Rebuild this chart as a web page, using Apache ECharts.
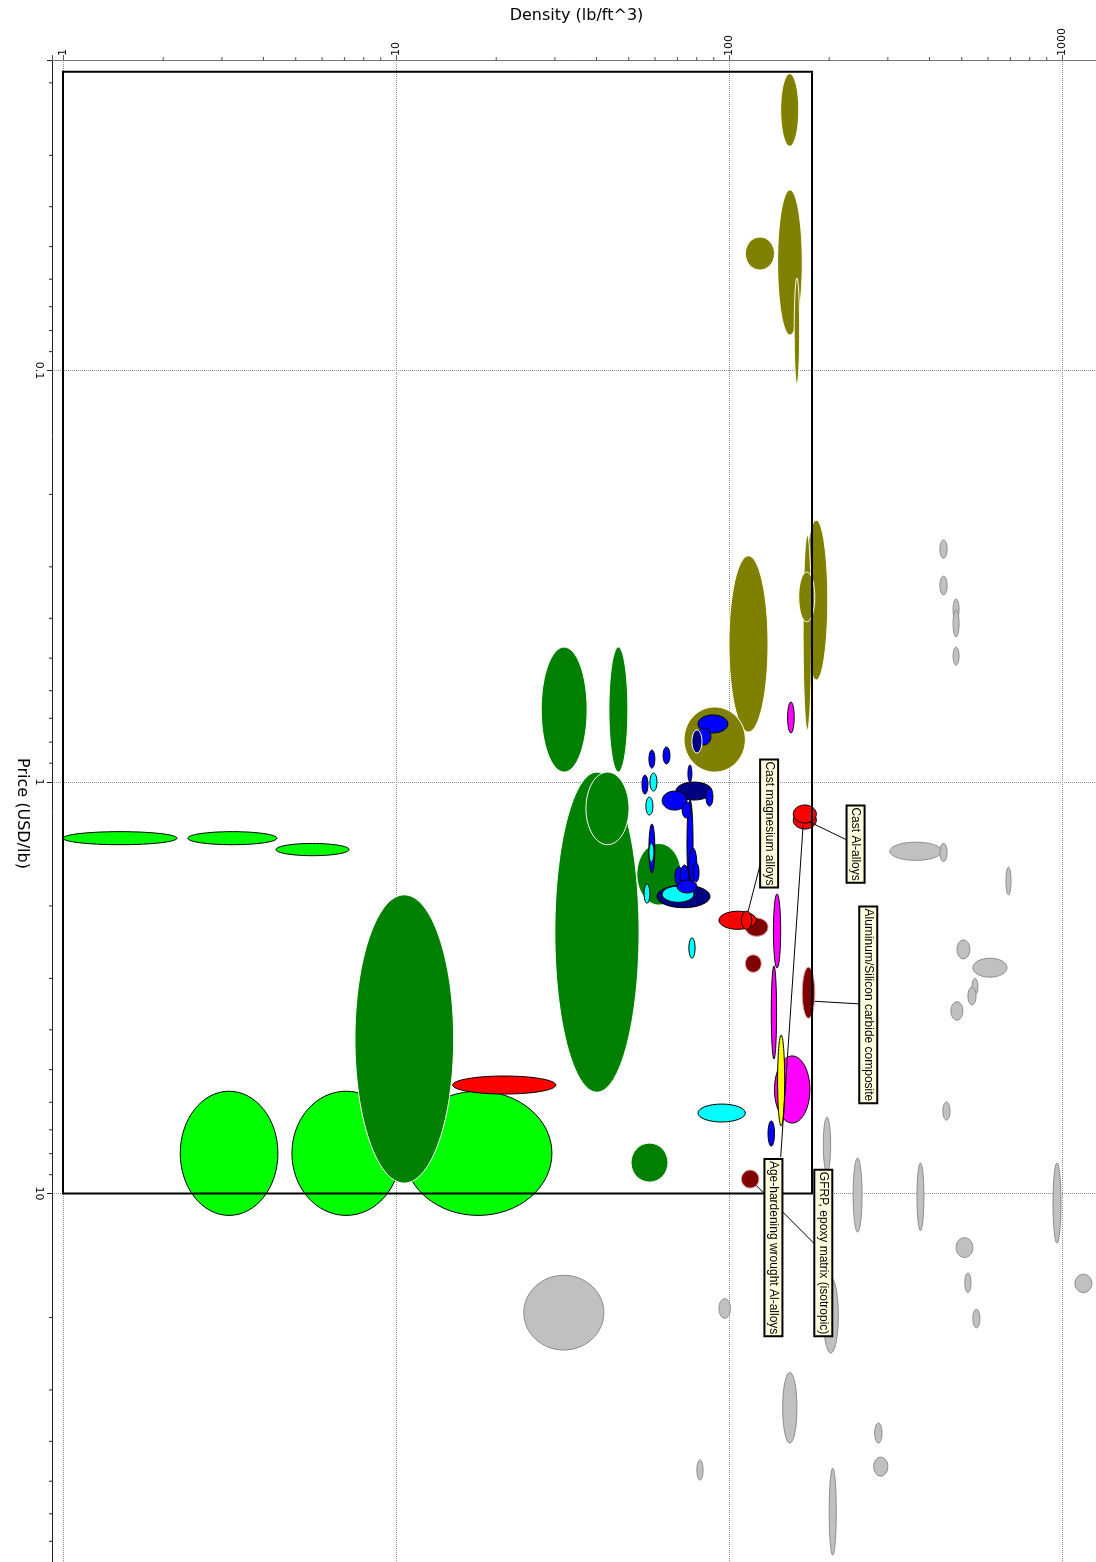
<!DOCTYPE html>
<html>
<head>
<meta charset="utf-8">
<title>Density vs Price</title>
<script src="https://cdn.jsdelivr.net/npm/echarts@6/dist/echarts.min.js"></script>
<style>
  html, body { margin: 0; padding: 0; background: #fff; }
  #chart { width: 1096px; height: 1562px; }
</style>
</head>
<body>
<div id="chart"></div>
<script>
// Material envelopes: [density low, density high, price low, price high]
// density in lb/ft^3, price in USD/lb
const grayOthers = [
  [430, 452, 0.258, 0.286], [430, 452, 0.316, 0.351], [471, 491, 0.359, 0.404],
  [471, 491, 0.382, 0.444], [471, 491, 0.470, 0.520], [304, 436, 1.40, 1.55],
  [430, 452, 1.41, 1.56], [679, 703, 1.61, 1.88], [484, 529, 2.42, 2.69],
  [540, 684, 2.68, 2.98], [537, 559, 3.00, 3.29], [522, 552, 3.15, 3.48],
  [464, 504, 3.42, 3.79], [439, 461, 5.99, 6.63], [192, 202, 6.52, 8.87],
  [236, 251, 8.20, 12.4], [367, 385, 8.43, 12.3], [940, 993, 8.43, 13.2],
  [481, 540, 12.8, 14.3], [511, 533, 15.6, 17.4], [1094, 1230, 15.7, 17.4],
  [540, 567, 19.1, 21.2], [192, 213, 16.0, 24.4], [93.3, 101, 18.0, 20.1],
  [145, 160, 27.2, 40.4], [274, 288, 36.1, 40.4], [272, 300, 43.7, 48.6],
  [80.1, 83.6, 44.4, 49.7], [200, 210, 46.5, 75.6], [24.2, 42.1, 15.8, 24.0]
];
const limeFoams = [
  [1.0, 2.20, 1.32, 1.42], [2.37, 4.39, 1.32, 1.42], [4.36, 7.23, 1.41, 1.51],
  [2.25, 4.42, 5.64, 11.3], [4.87, 10.3, 5.64, 11.3], [10.6, 29.4, 5.64, 11.3]
];
const greenWoods = [
  [27.3, 37.5, 0.470, 0.946], [43.6, 49.7, 0.470, 0.946], [30.0, 53.7, 0.946, 5.67],
  [37.2, 50.1, 0.946, 1.42], [52.9, 71.8, 1.41, 1.99], [7.53, 14.9, 1.88, 9.43],
  [50.8, 65.6, 7.54, 9.38]
];
const oliveMinerals = [
  [143, 162, 0.0190, 0.0285], [140, 166, 0.0364, 0.0820], [112, 137, 0.0474, 0.0570],
  [157, 163, 0.0596, 0.108], [169, 198, 0.231, 0.565], [167, 177, 0.251, 0.747],
  [162, 181, 0.309, 0.408], [100, 131, 0.282, 0.756], [73.3, 112, 0.657, 0.946]
];
const navyBack = [
  [69.3, 88.9, 1.00, 1.106], [60.8, 87.7, 1.78, 2.02]
];
const blueBack = [
  [57.5, 59.9, 0.836, 0.925], [63.4, 66.5, 0.822, 0.904], [54.8, 57.1, 0.962, 1.070],
  [57.5, 59.9, 1.265, 1.664]
];
const cyanPolymers = [
  [80.7, 112, 6.06, 6.70], [75.8, 79.1, 2.39, 2.68], [57.9, 60.8, 0.951, 1.052],
  [56.3, 59.1, 1.088, 1.203], [57.5, 59.5, 1.406, 1.565], [63.0, 78.5, 1.79, 1.96],
  [55.6, 57.9, 1.77, 1.97]
];
const blueFront = [
  [80.7, 99.3, 0.687, 0.760], [80.1, 88.3, 0.739, 0.813], [75.3, 77.4, 0.909, 1.0],
  [74.8, 78.0, 1.106, 1.80], [63.0, 74.8, 1.052, 1.170], [85.3, 89.5, 1.034, 1.144],
  [72.3, 76.9, 1.118, 1.223], [75.8, 80.1, 1.447, 1.75], [78.0, 81.3, 1.573, 1.75],
  [68.8, 72.8, 1.609, 1.78], [71.3, 75.8, 1.591, 1.85], [69.8, 80.1, 1.73, 1.86],
  [131, 137, 6.66, 7.67]
];
const navyFront = [
  [77.4, 83.0, 0.747, 0.850]
];
const maroonAlloys = [
  [112, 131, 2.14, 2.37], [112, 125, 2.63, 2.90], [166, 181, 2.82, 3.75],
  [109, 123, 8.77, 9.70]
];
const redAlloys = [
  [14.8, 30.2, 5.18, 5.73], [93.3, 121, 2.06, 2.28], [109, 117, 2.06, 2.28],
  [156, 183, 1.176, 1.301], [156, 183, 1.137, 1.258]
];
const magentaComposites = [
  [136, 143, 1.87, 2.83], [134, 139, 2.80, 4.71], [137, 175, 4.63, 6.74],
  [150, 157, 0.639, 0.760]
];
const yellowComposites = [
  [140, 147, 4.12, 6.85]
];

// selection box: density range, price range
const selectionDensity = [1, 177.6];
const selectionPrice = [0.0188, 10];

// labels: box centre (density, price), leader start and end
const labelTexts = [
  'Cast magnesium alloys', 'Cast Al-alloys', 'Aluminum/Silicon carbide composite',
  'Age-hardening wrought Al-alloys', 'GFRP, epoxy matrix (isotropic)'
];
const labelDensity = [132, 240, 262, 136, 192];
const labelPrice = [1.261, 1.415, 3.48, 13.53, 13.95];
const leaderFrom = [[124, 1.591], [226, 1.383], [246, 3.46], [143, 8.15], [181, 13.27]];
const leaderTo = [[114, 2.07], [175, 1.251], [181, 3.41], [167, 1.272], [120.5, 9.54]];

// axes
const densityMin = 0.9268, densityMax = 1310;
const priceMin = 0.0176, priceMax = 80.8;
const densityMinorTicks = [2, 3, 4, 5, 6, 7, 8, 9, 20, 30, 40, 50, 60, 70, 80, 90,
  200, 300, 400, 500, 600, 700, 800, 900];
const priceMinorTicks = [0.02, 0.03, 0.04, 0.05, 0.06, 0.07, 0.08, 0.09,
  0.2, 0.3, 0.4, 0.5, 0.6, 0.7, 0.8, 0.9, 2, 3, 4, 5, 6, 7, 8, 9, 20, 30, 40, 50, 60, 70, 80];

const layers = [
  { data: grayOthers, fill: '#c0c0c0', stroke: '#8c8c8c' },
  { data: limeFoams, fill: '#00ff00', stroke: '#000000' },
  { data: greenWoods, fill: '#008000', stroke: '#ffffff' },
  { data: oliveMinerals, fill: '#808000', stroke: '#fffff0' },
  { data: navyBack, fill: '#000080', stroke: '#000000' },
  { data: blueBack, fill: '#0000ff', stroke: '#000000' },
  { data: cyanPolymers, fill: '#00ffff', stroke: '#000000' },
  { data: blueFront, fill: '#0000ff', stroke: '#000000' },
  { data: navyFront, fill: '#000080', stroke: '#ffffff' },
  { data: maroonAlloys, fill: '#800000', stroke: '#e0a0a0' },
  { data: redAlloys, fill: '#ff0000', stroke: '#000000' },
  { data: magentaComposites, fill: '#ff00ff', stroke: '#000000' },
  { data: yellowComposites, fill: '#ffff00', stroke: '#000000' }
];

const isPow10 = (v) => Math.abs(Math.log10(v) - Math.round(Math.log10(v))) < 1e-6;

const ellipseSeries = layers.map(layer => ({
  type: 'custom',
  clip: false,
  silent: true,
  encode: { x: [0, 1], y: [2, 3] },
  data: layer.data,
  renderItem: (params, api) => {
    const p1 = api.coord([api.value(0), api.value(2)]);
    const p2 = api.coord([api.value(1), api.value(3)]);
    return {
      type: 'ellipse',
      shape: {
        cx: (p1[0] + p2[0]) / 2,
        cy: (p1[1] + p2[1]) / 2,
        rx: Math.abs(p2[0] - p1[0]) / 2,
        ry: Math.abs(p2[1] - p1[1]) / 2
      },
      style: { fill: layer.fill, stroke: layer.stroke, lineWidth: 1 }
    };
  }
}));

const chart = echarts.init(document.getElementById('chart'));

chart.setOption({
  animation: false,
  backgroundColor: '#ffffff',
  grid: { left: 52, top: 60, right: -5, bottom: -5, containLabel: false, outerBoundsMode: 'none' },
  xAxis: {
    type: 'log',
    logBase: 10,
    position: 'top',
    min: densityMin,
    max: densityMax,
    name: 'Density (lb/ft^3)',
    nameLocation: 'middle',
    nameGap: 36,
    nameMoveOverlap: false,
    nameTextStyle: { fontFamily: 'DejaVu Sans', fontSize: 16, color: '#000' },
    axisLine: { show: true, lineStyle: { color: '#777', width: 1 } },
    axisTick: { show: true, length: 5, lineStyle: { color: '#555' } },
    axisLabel: {
      rotate: -90,
      margin: 4,
      fontFamily: 'DejaVu Sans',
      fontSize: 11,
      color: '#000',
      formatter: (v) => (isPow10(v) ? String(Math.round(v)) : '')
    },
    splitLine: { show: true, lineStyle: { type: 'dotted', color: '#8c8c8c', width: 1 } }
  },
  yAxis: {
    type: 'log',
    logBase: 10,
    inverse: true,
    min: priceMin,
    max: priceMax,
    name: 'Price (USD/lb)',
    nameLocation: 'middle',
    nameRotate: -90,
    nameGap: 22,
    nameMoveOverlap: false,
    nameTextStyle: { fontFamily: 'DejaVu Sans', fontSize: 16, color: '#000' },
    axisLine: { show: true, lineStyle: { color: '#222', width: 1 } },
    axisTick: { show: true, length: 5, lineStyle: { color: '#222' } },
    axisLabel: {
      rotate: -90,
      margin: 8,
      fontFamily: 'DejaVu Sans',
      fontSize: 11,
      color: '#000',
      formatter: (v) => (isPow10(v) ? String(+v.toPrecision(3)) : '')
    },
    splitLine: { show: true, lineStyle: { type: 'dotted', color: '#8c8c8c', width: 1 } }
  },
  series: [
    // minor ticks on the density axis
    {
      type: 'custom',
      clip: false,
      silent: true,
      data: densityMinorTicks.map(v => [v, 1]),
      encode: { x: 0, y: 1 },
      renderItem: (params, api) => {
        const c = api.coord([api.value(0), 1]);
        const top = params.coordSys.y;
        return {
          type: 'line',
          shape: { x1: c[0], y1: top - 3, x2: c[0], y2: top + 1 },
          style: { stroke: '#555', lineWidth: 1 }
        };
      }
    },
    // minor ticks on the price axis
    {
      type: 'custom',
      clip: false,
      silent: true,
      data: priceMinorTicks.map(v => [1, v]),
      encode: { x: 0, y: 1 },
      renderItem: (params, api) => {
        const c = api.coord([1, api.value(1)]);
        const left = params.coordSys.x;
        return {
          type: 'line',
          shape: { x1: left - 3, y1: c[1], x2: left, y2: c[1] },
          style: { stroke: '#222', lineWidth: 1 }
        };
      }
    },
    ...ellipseSeries,
    // selection rectangle
    {
      type: 'custom',
      clip: false,
      silent: true,
      data: [[selectionDensity[0], selectionDensity[1], selectionPrice[0], selectionPrice[1]]],
      encode: { x: [0, 1], y: [2, 3] },
      renderItem: (params, api) => {
        const p1 = api.coord([api.value(0), api.value(2)]);
        const p2 = api.coord([api.value(1), api.value(3)]);
        return {
          type: 'rect',
          shape: {
            x: Math.min(p1[0], p2[0]),
            y: Math.min(p1[1], p2[1]),
            width: Math.abs(p2[0] - p1[0]),
            height: Math.abs(p2[1] - p1[1])
          },
          style: { fill: 'none', stroke: '#000', lineWidth: 2 }
        };
      }
    },
    // leader lines
    {
      type: 'custom',
      clip: false,
      silent: true,
      data: leaderFrom.map((f, i) => [f[0], f[1], leaderTo[i][0], leaderTo[i][1]]),
      encode: { x: [0, 2], y: [1, 3] },
      renderItem: (params, api) => {
        const a = api.coord([api.value(0), api.value(1)]);
        const b = api.coord([api.value(2), api.value(3)]);
        return {
          type: 'line',
          shape: { x1: a[0], y1: a[1], x2: b[0], y2: b[1] },
          style: { stroke: '#000', lineWidth: 1 }
        };
      }
    },
    // label boxes
    {
      type: 'custom',
      clip: false,
      silent: true,
      data: labelDensity.map((d, i) => [d, labelPrice[i]]),
      encode: { x: 0, y: 1 },
      renderItem: (params, api) => {
        const c = api.coord([api.value(0), api.value(1)]);
        return {
          type: 'text',
          x: c[0],
          y: c[1],
          rotation: -Math.PI / 2,
          style: {
            text: labelTexts[params.dataIndex],
            fontFamily: 'Liberation Sans, Arial, sans-serif',
            fontSize: 12,
            lineHeight: 14,
            fill: '#000',
            align: 'center',
            verticalAlign: 'middle',
            backgroundColor: '#ffffe0',
            borderColor: '#000',
            borderWidth: 2,
            padding: [1, 1]
          }
        };
      }
    }
  ]
});
</script>
</body>
</html>
